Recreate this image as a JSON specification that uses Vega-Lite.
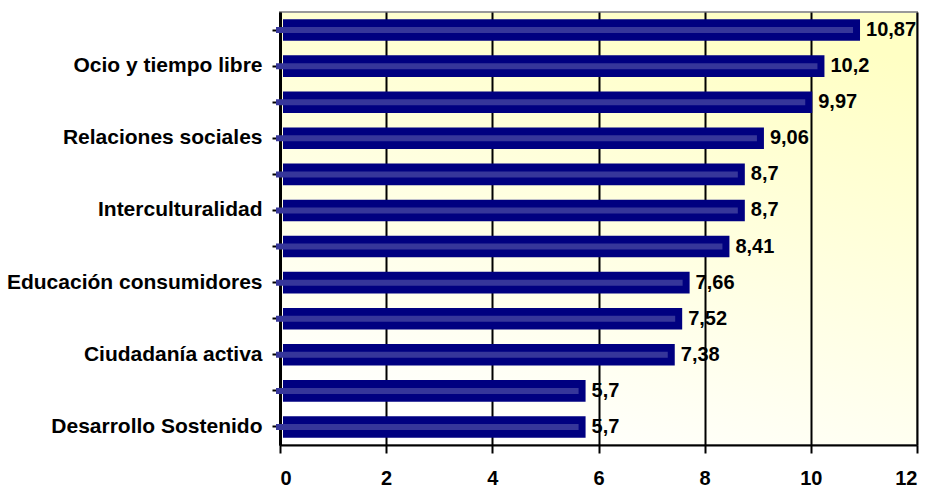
{
  "$schema": "https://vega.github.io/schema/vega-lite/v6.json",
  "width": 637,
  "height": 433,
  "autosize": {"type": "none"},
  "padding": {"left": 280, "top": 12, "right": 15, "bottom": 42},
  "background": "white",
  "config": {
    "view": {
      "stroke": "#999999",
      "strokeWidth": 2,
      "fill": {
        "gradient": "linear",
        "x1": 0.7, "y1": 0, "x2": 0.3, "y2": 1,
        "stops": [
          {"offset": 0, "color": "#FFFFC4"},
          {"offset": 1, "color": "#FFFFFF"}
        ]
      }
    }
  },
  "data": {
    "values": [
      {"categoria": "r1", "valor": 10.87},
      {"categoria": "Ocio y tiempo libre", "valor": 10.2},
      {"categoria": "r2", "valor": 9.97},
      {"categoria": "Relaciones sociales", "valor": 9.06},
      {"categoria": "r3", "valor": 8.7},
      {"categoria": "Interculturalidad", "valor": 8.7},
      {"categoria": "r4", "valor": 8.41},
      {"categoria": "Educación consumidores", "valor": 7.66},
      {"categoria": "r5", "valor": 7.52},
      {"categoria": "Ciudadanía activa", "valor": 7.38},
      {"categoria": "r6", "valor": 5.7},
      {"categoria": "Desarrollo Sostenido", "valor": 5.7}
    ]
  },
  "encoding": {
    "y": {
      "field": "categoria",
      "type": "nominal",
      "sort": null,
      "scale": {"paddingInner": 0.4, "paddingOuter": 0.2},
      "axis": {
        "title": null,
        "labelExpr": "length(datum.value) < 4 ? '' : datum.value",
        "labelLimit": 300,
        "labelFont": "Liberation Sans",
        "labelFontWeight": "bold",
        "labelFontSize": 21,
        "labelColor": "black",
        "labelPadding": 10,
        "tickSize": 8,
        "tickWidth": 2,
        "tickColor": "black",
        "domainColor": "black",
        "domainWidth": 3,
        "grid": false
      }
    },
    "x": {
      "field": "valor",
      "type": "quantitative",
      "scale": {"domain": [0, 12], "nice": false},
      "axis": {
        "title": null,
        "values": [0, 2, 4, 6, 8, 10, 12],
        "format": "d",
        "labelFont": "Liberation Sans",
        "labelFontWeight": "bold",
        "labelFontSize": 20,
        "labelColor": "black",
        "labelPadding": 15,
        "tickSize": 8,
        "tickWidth": 2,
        "tickColor": "black",
        "domainColor": "black",
        "domainWidth": 2,
        "grid": true,
        "gridColor": "black",
        "gridWidth": 2,
        "gridOpacity": 1
      }
    }
  },
  "layer": [
    {
      "mark": {"type": "bar", "color": "#000080", "xOffset": 3, "x2Offset": -3}
    },
    {
      "mark": {"type": "bar", "color": "#36369A", "size": 6, "xOffset": -4, "x2Offset": 7}
    },
    {
      "mark": {
        "type": "text",
        "align": "left",
        "baseline": "middle",
        "dx": 9,
        "fontWeight": "bold",
        "fontSize": 20,
        "font": "Liberation Sans",
        "color": "black",
        "text": {"expr": "replace(format(datum.valor, '.2~f'), '.', ',')"}
      }
    }
  ]
}
